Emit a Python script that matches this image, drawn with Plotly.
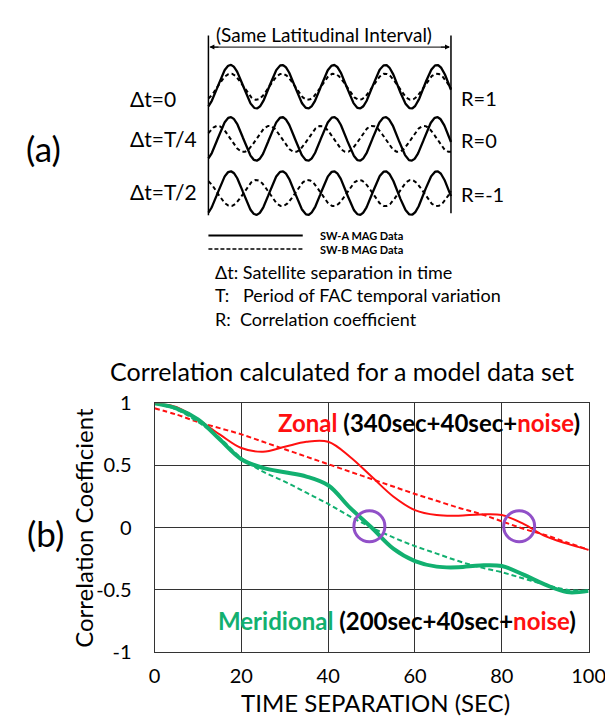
import numpy as np
import plotly.graph_objects as go

# ---------------- Panel (b) data ----------------
time_sep = [0, 5, 10, 15, 20, 25, 30, 35, 40, 45, 50, 55, 60, 65, 70, 75, 80, 85, 90, 95, 100]
zonal_model = [1.0, 0.97, 0.87, 0.75, 0.64, 0.61, 0.65, 0.69, 0.69, 0.57, 0.41, 0.25, 0.14,
               0.10, 0.095, 0.105, 0.10, 0.03, -0.07, -0.13, -0.18]
zonal_linear = [0.96, 0.91, 0.85, 0.80, 0.75, 0.69, 0.63, 0.57, 0.51, 0.45, 0.39, 0.33, 0.27,
                0.215, 0.16, 0.11, 0.05, -0.01, -0.06, -0.12, -0.18]
merid_model = [1.0, 0.96, 0.87, 0.71, 0.55, 0.48, 0.445, 0.41, 0.34, 0.16, 0.0, -0.17, -0.27,
               -0.315, -0.32, -0.305, -0.31, -0.38, -0.46, -0.52, -0.51]
merid_linear = [1.0, 0.95, 0.85, 0.72, 0.56, 0.45, 0.37, 0.28, 0.19, 0.09, 0.0, -0.08, -0.15,
                -0.21, -0.27, -0.32, -0.36, -0.41, -0.46, -0.50, -0.51]
crossing_times = [49.5, 84.0]
crossing_r = [0.01, 0.01]
x_tick_vals = [0, 20, 40, 60, 80, 100]
y_tick_vals = [1, 0.5, 0, -0.5, -1]
y_tick_text = ["1", "0.5", "0", "-0.5", "-1"]

# ---------------- Panel (a) schematic ----------------
dt_labels = ["Δt=0", "Δt=T/4", "Δt=T/2"]
r_labels = ["R=1", "R=0", "R=-1"]
phase_shift_fraction = [0.0, 0.25, 0.5]   # Δt / T
n_cycles = 4.7
sw_a_amp = 1.0
sw_b_amp = 0.6
legend_names = ["SW-A MAG Data", "SW-B MAG Data"]
notes = ["Δt: Satellite separation in time",
         "T:&nbsp;&nbsp;&nbsp;Period of FAC temporal variation",
         "R:&nbsp;&nbsp;Correlation coefficient"]

RED = "#FF1010"
GREEN = "#12B070"
PURPLE = "#9150C8"
FONT = "Lato"

# layout constants (pixels in overlay frame)
W, H = 613, 719
WX0, WX1 = 202, 454
ROW_Y = [68, 122, 178]
AMP_PX = 22.5
PHASE0 = 0.1775

fig = go.Figure()

ov = dict(xaxis="x2", yaxis="y2", showlegend=False, hoverinfo="skip")

# waves
t = np.linspace(0, n_cycles, 500)
xw = WX0 + t * (WX1 - WX0) / n_cycles
for cy, sh in zip(ROW_Y, phase_shift_fraction):
    ya = cy - AMP_PX * sw_a_amp * np.sin(2 * np.pi * (t - PHASE0))
    yb = cy - AMP_PX * sw_b_amp * np.sin(2 * np.pi * (t - PHASE0 + sh))
    fig.add_trace(go.Scatter(x=xw, y=yb, mode="lines",
                             line=dict(color="black", width=2, dash="4px,3px"), **ov))
    fig.add_trace(go.Scatter(x=xw, y=ya, mode="lines",
                             line=dict(color="black", width=2.3), **ov))

# interval boundary lines and arrow
fig.add_trace(go.Scatter(x=[WX0, WX0], y=[15, 201], mode="lines",
                         line=dict(color="black", width=1.5), **ov))
fig.add_trace(go.Scatter(x=[WX1, WX1], y=[15, 199], mode="lines",
                         line=dict(color="black", width=1.5), **ov))
fig.add_trace(go.Scatter(x=[WX0 + 2, WX1 - 2], y=[27, 27], mode="lines",
                         line=dict(color="black", width=1), **ov))

# legend lines
fig.add_trace(go.Scatter(x=[202, 300], y=[222, 222], mode="lines",
                         line=dict(color="black", width=2), **ov))
fig.add_trace(go.Scatter(x=[202, 300], y=[236, 236], mode="lines",
                         line=dict(color="black", width=1.5, dash="4px,2px"), **ov))

# ---------------- Panel (b) traces ----------------
fig.add_trace(go.Scatter(x=time_sep, y=zonal_linear, mode="lines", line_shape="spline",
                         line=dict(color=RED, width=2, dash="5px,3px"), showlegend=False))
fig.add_trace(go.Scatter(x=time_sep, y=merid_linear, mode="lines", line_shape="spline",
                         line=dict(color=GREEN, width=2, dash="5px,3px"), showlegend=False))
fig.add_trace(go.Scatter(x=time_sep, y=zonal_model, mode="lines", line_shape="spline",
                         line=dict(color=RED, width=2), showlegend=False))
fig.add_trace(go.Scatter(x=time_sep, y=merid_model, mode="lines", line_shape="spline",
                         line=dict(color=GREEN, width=4), showlegend=False))
fig.add_trace(go.Scatter(x=crossing_times, y=crossing_r, mode="markers",
                         marker=dict(symbol="circle-open", size=31, color=PURPLE,
                                     line=dict(color=PURPLE, width=3)),
                         showlegend=False))

ann = []


def txt(x, y, s, size, xanchor="left", color="black", angle=0, align="left"):
    ann.append(dict(x=x, y=y, xref="x2", yref="y2", text=s, showarrow=False,
                    xanchor=xanchor, yanchor="middle", textangle=angle, align=align,
                    font=dict(family=FONT, size=size, color=color)))


txt(322, 14, "(Same Latitudinal Interval)", 19, "center")
txt(31, 131, "(a)", 35, "center")
for lab, cy in zip(dt_labels, [80, 122, 176]):
    txt(118, cy, lab, 21)
for lab, cy in zip(r_labels, [80, 123, 179]):
    txt(462, cy, lab, 20)
txt(316, 229, "<br>".join("<b>" + n + "</b>" for n in legend_names), 11)
txt(207, 284, "<br>".join(notes), 18)

txt(341, 362, "Correlation calculated for a model data set", 25, "center")
txt(33, 530, "(b)", 35, "center")
txt(72, 524, "Correlation Coefficient", 24, "center", angle=-90)
txt(376, 705, "TIME SEPARATION (SEC)", 24, "center")
txt(272, 415, f"<b><span style='color:{RED}'>Zonal</span> (340sec+40sec+"
              f"<span style='color:{RED}'>noise</span>)</b>", 24)
txt(210, 620, f"<b><span style='color:{GREEN}'>Meridional</span> (200sec+40sec+"
              f"<span style='color:{RED}'>noise</span>)</b>", 24)

# arrow heads
for tip, tail in [(WX0 + 1, WX0 + 12), (WX1 - 1, WX1 - 12)]:
    ann.append(dict(x=tip, y=27, ax=tail, ay=27, xref="x2", yref="y2",
                    axref="x2", ayref="y2", text="", showarrow=True,
                    arrowhead=2, arrowsize=1, arrowwidth=1, arrowcolor="black"))

fig.update_layout(
    width=W, height=H, margin=dict(l=0, r=0, t=0, b=0),
    paper_bgcolor="white", plot_bgcolor="rgba(0,0,0,0)",
    font=dict(family=FONT, color="black"),
    annotations=ann,
    xaxis=dict(domain=[146 / W, 597 / W], range=[0, 100], tickvals=x_tick_vals,
               showgrid=True, gridcolor="#333", gridwidth=1, zeroline=False,
               showline=True, linecolor="#333", linewidth=1, mirror=True,
               ticks="", ticklabelstandoff=6, ticklabeloverflow="allow",
               tickfont=dict(size=20, family=FONT)),
    yaxis=dict(domain=[1 - 652.5 / H, 1 - 395.5 / H], range=[-1, 1],
               tickvals=y_tick_vals, ticktext=y_tick_text,
               showgrid=True, gridcolor="#333", gridwidth=1, zeroline=False,
               showline=True, linecolor="#333", linewidth=1, mirror=True,
               ticks="", ticklabelstandoff=18, tickfont=dict(size=20, family=FONT)),
    xaxis2=dict(domain=[0, 1], range=[0, W], visible=False, anchor="y2"),
    yaxis2=dict(domain=[0, 1], range=[H, 0], visible=False, anchor="x2"),
)

fig.write_html("out.html")
